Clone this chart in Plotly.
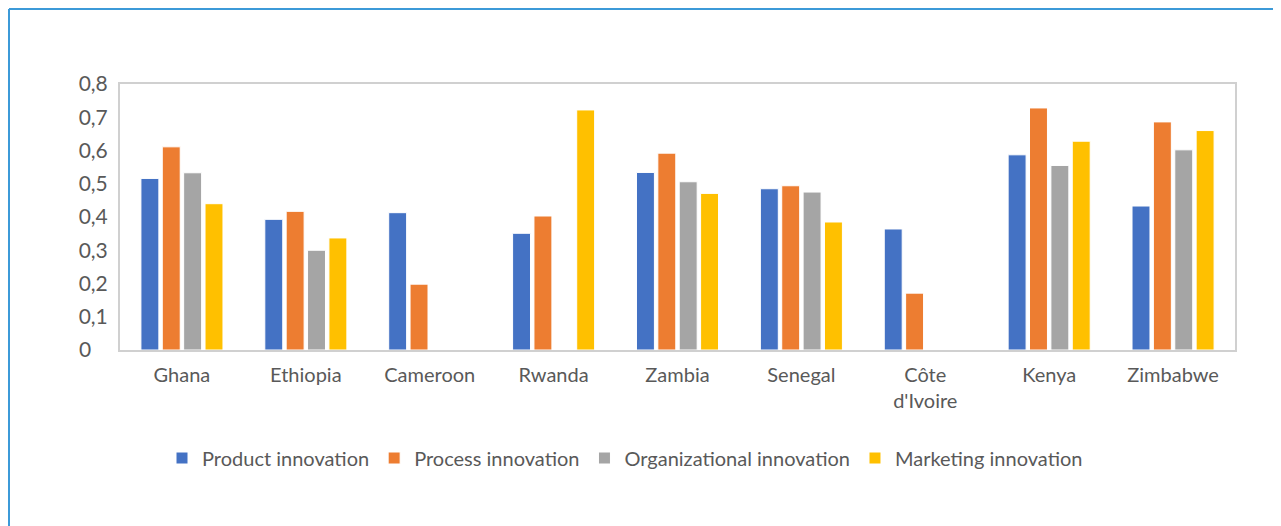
import plotly.graph_objects as go

countries = ["Ghana", "Ethiopia", "Cameroon", "Rwanda", "Zambia", "Senegal",
             "Côte<br>d'Ivoire", "Kenya", "Zimbabwe"]
product = [0.516, 0.393, 0.413, 0.351, 0.534, 0.485, 0.364, 0.587, 0.433]
process = [0.611, 0.417, 0.198, 0.403, 0.592, 0.494, 0.171, 0.728, 0.686]
organizational = [0.533, 0.300, None, None, 0.506, 0.475, None, 0.555, 0.602]
marketing = [0.440, 0.337, None, 0.722, 0.471, 0.385, None, 0.628, 0.660]

series = [
    ("Product innovation", product, "#4472C4"),
    ("Process innovation", process, "#ED7D31"),
    ("Organizational innovation", organizational, "#A5A5A5"),
    ("Marketing innovation", marketing, "#FFC000"),
]

tick_vals = [0, 0.1, 0.2, 0.3, 0.4, 0.5, 0.6, 0.7, 0.8]
tick_text = ["0\u2008\u2007", "0,1", "0,2", "0,3", "0,4", "0,5", "0,6", "0,7", "0,8"]

fig = go.Figure()
for name, vals, col in series:
    fig.add_trace(go.Bar(x=countries, y=vals, name=name,
                         marker=dict(color=col, line=dict(color="white", width=1))))

# page body has an 8px margin: work in screen pixels, then subtract it
OFF = 8
W, H = 1281 - OFF, 526 - OFF
L, T = 120 - OFF, 84 - OFF
R = W - (1235 - OFF)
B = H - (350 - OFF)
pw, ph = W - L - R, H - T - B

def px_x(x):
    return (x - OFF - L) / pw

def px_y(y):
    return (H - B - (y - OFF)) / ph

fig.update_layout(
    width=W, height=H,
    margin=dict(l=L, r=R, t=T, b=B),
    paper_bgcolor="white", plot_bgcolor="white",
    barmode="group", bargap=0.31, bargroupgap=0.16,
    font=dict(family="Lato, Open Sans, sans-serif", size=20, color="#595959"),
    legend=dict(orientation="h", x=px_x(625), xanchor="center",
                y=px_y(458), yanchor="middle",
                font=dict(size=20, color="#595959"), traceorder="normal",
                itemwidth=30),
    showlegend=True,
    xaxis=dict(showline=True, linecolor="#D0D0D0", linewidth=2, mirror=True,
               ticks="", showgrid=False, tickfont=dict(size=20),
               ticklabelstandoff=6),
    yaxis=dict(range=[0, 0.8], tickvals=tick_vals, ticktext=tick_text,
               showline=True, linecolor="#D0D0D0", linewidth=2, mirror=True,
               showgrid=False, zeroline=False, ticks="", ticklabelstandoff=6,
               tickfont=dict(size=21)),
    shapes=[
        dict(type="line", xref="paper", yref="paper",
             x0=px_x(9), x1=px_x(1300), y0=px_y(9), y1=px_y(9),
             line=dict(color="#3C9AD8", width=2)),
        dict(type="line", xref="paper", yref="paper",
             x0=px_x(9), x1=px_x(9), y0=px_y(9), y1=px_y(540),
             line=dict(color="#3C9AD8", width=2)),
    ],
)

fig.write_html("out.html")
